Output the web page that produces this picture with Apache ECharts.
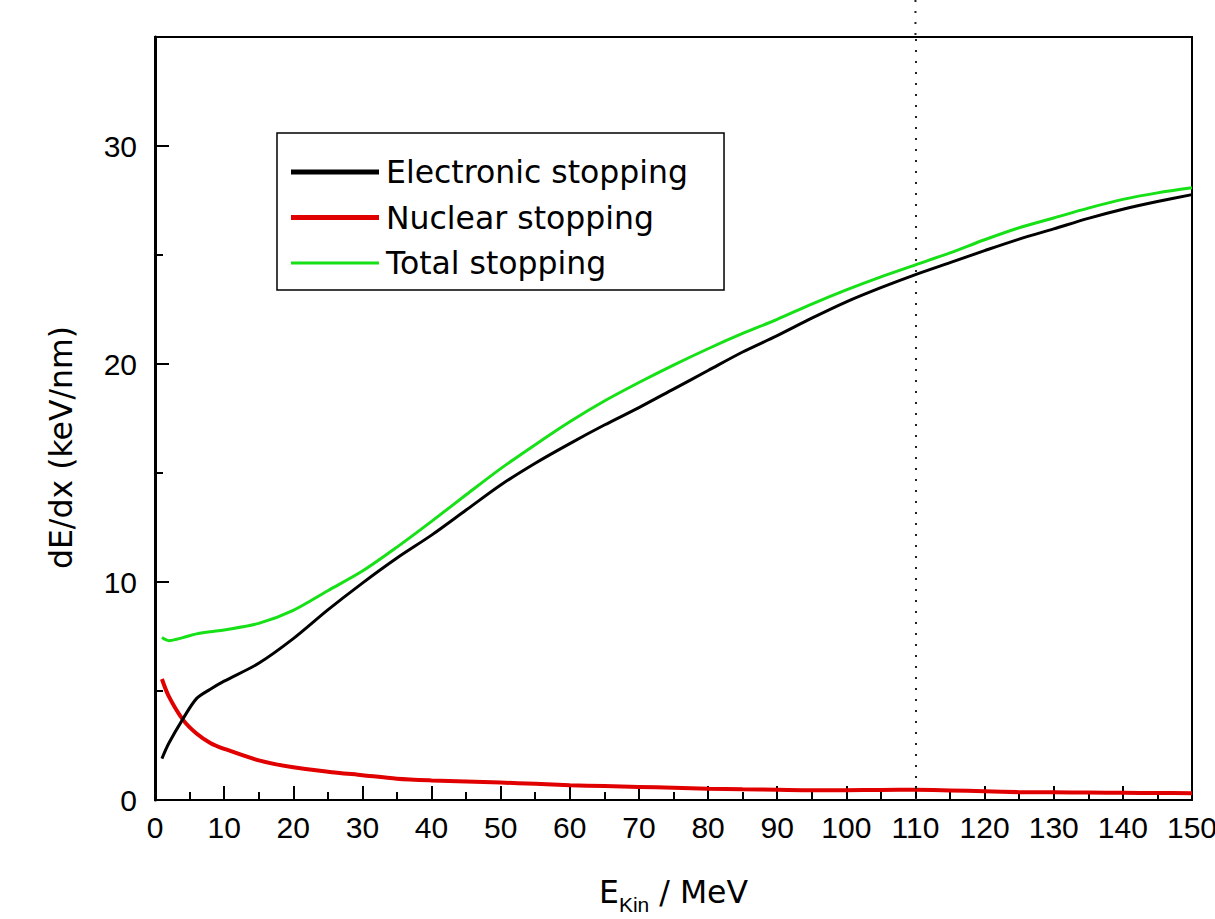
<!DOCTYPE html>
<html>
<head>
<meta charset="utf-8">
<script src="https://cdn.jsdelivr.net/npm/echarts@6/dist/echarts.min.js"></script>
<style>
  html, body { margin: 0; padding: 0; background: #fff; }
  #chart { width: 1215px; height: 919px; }
</style>
</head>
<body>
<div id="chart"></div>
<script>
// Kinetic energy (MeV)
const energy = [1, 2, 4, 6, 8, 10, 15, 20, 25, 30, 35, 40, 45, 50, 55, 60, 65, 70, 75, 80,
                85, 90, 95, 100, 105, 110, 115, 120, 125, 130, 135, 140, 145, 150];
// Stopping power dE/dx (keV/nm)
const electronic = [1.9, 2.6, 3.7, 4.65, 5.08, 5.45, 6.27, 7.4, 8.72, 9.95, 11.1, 12.15, 13.3, 14.45,
                    15.45, 16.35, 17.2, 18.0, 18.85, 19.7, 20.55, 21.3, 22.1, 22.85, 23.5, 24.1,
                    24.65, 25.2, 25.73, 26.2, 26.68, 27.1, 27.45, 27.77];
const nuclear = [5.55, 4.75, 3.7, 3.05, 2.62, 2.35, 1.82, 1.5, 1.3, 1.14, 0.98, 0.9, 0.85, 0.8,
                 0.74, 0.68, 0.64, 0.6, 0.56, 0.52, 0.49, 0.47, 0.45, 0.45, 0.46, 0.47, 0.44,
                 0.4, 0.36, 0.35, 0.34, 0.33, 0.32, 0.31];
const total = [7.45, 7.31, 7.45, 7.62, 7.72, 7.8, 8.1, 8.7, 9.6, 10.5, 11.6, 12.78, 14.0, 15.2,
               16.3, 17.35, 18.3, 19.15, 19.95, 20.7, 21.4, 22.05, 22.75, 23.4, 24.0, 24.55,
               25.1, 25.7, 26.25, 26.7, 27.15, 27.55, 27.85, 28.08];

const seriesNames = ['Electronic stopping', 'Nuclear stopping', 'Total stopping'];
const seriesColors = ['#000000', '#e10000', '#16e016'];
const xRange = [0, 150];
const xStep = 10;
const yRange = [0, 35];
const yStep = 10;
const yMinorStep = 5;
const markerEnergy = 110;

const pairs = ys => energy.map((e, i) => [e, ys[i]]);

const tickFont = 'Liberation Sans, Arial, sans-serif';
const textFont = 'DejaVu Sans, sans-serif';

// Flat bar icons for the legend: thickness follows the aspect of each path.
const thickBar = 'path://M0 0H88V5H0Z';
const thinBar = 'path://M0 0H88V3H0Z';

const chart = echarts.init(document.getElementById('chart'), null, { renderer: 'svg' });

const option = {
  animation: false,
  backgroundColor: '#fff',
  grid: {
    left: 155, right: 23, top: 37, bottom: 119,
    containLabel: false,
    outerBoundsMode: 'none',
    show: true,
    borderColor: '#000',
    borderWidth: 2,
    backgroundColor: 'transparent'
  },
  legend: {
    orient: 'vertical',
    left: 277,
    top: 133,
    padding: [21, 36, 9, 14],
    itemWidth: 88,
    itemHeight: 14,
    itemGap: 9.5,
    symbolKeepAspect: true,
    borderColor: '#000',
    borderWidth: 1.5,
    backgroundColor: '#fff',
    selectedMode: false,
    textStyle: {
      fontFamily: textFont, fontSize: 31.5, color: '#000', lineHeight: 36,
      padding: [0, 0, 0, 2]
    },
    data: [
      { name: seriesNames[0], icon: thickBar },
      { name: seriesNames[1], icon: thickBar },
      { name: seriesNames[2], icon: thinBar }
    ]
  },
  xAxis: {
    type: 'value',
    min: xRange[0], max: xRange[1], interval: xStep,
    axisLine: { lineStyle: { color: '#000', width: 2 } },
    axisTick: { inside: true, length: 14, lineStyle: { color: '#000', width: 2 } },
    minorTick: { show: true, splitNumber: 2, length: 8, lineStyle: { color: '#000', width: 2 } },
    splitLine: { show: false },
    axisLabel: { fontFamily: tickFont, fontSize: 30, color: '#000', margin: 12, hideOverlap: false },
    name: '{e|E}{sub|Kin}{e| / MeV}',
    nameLocation: 'middle',
    nameGap: 76,
    nameTextStyle: {
      rich: {
        e: { fontFamily: textFont, fontSize: 31.5, lineHeight: 32, color: '#000', verticalAlign: 'top' },
        sub: { fontFamily: tickFont, fontSize: 21, lineHeight: 21, color: '#000', verticalAlign: 'top', padding: [18, 0, 0, 0] }
      }
    }
  },
  yAxis: [
    {
      type: 'value',
      position: 'left',
      min: yRange[0], max: yRange[1], interval: yStep,
      axisLine: { show: true, lineStyle: { color: '#000', width: 3 } },
      axisTick: { show: true, inside: true, length: 14, lineStyle: { color: '#000', width: 2 } },
      splitLine: { show: false },
      axisLabel: {
        fontFamily: tickFont, fontSize: 30, color: '#000', margin: 18,
        formatter: v => (v % yStep === 0 ? String(v) : '')
      },
      name: 'dE/dx (keV/nm)',
      nameLocation: 'middle',
      nameRotate: 90,
      nameGap: 78,
      nameTextStyle: {
        fontFamily: textFont, fontSize: 31.5, color: '#000', lineHeight: 32,
        padding: [0, 58, 0, 0]
      }
    },
    {
      type: 'value',
      position: 'left',
      min: yRange[0], max: yRange[1], interval: yMinorStep,
      axisLine: { show: false },
      axisTick: { show: true, inside: true, length: 8, lineStyle: { color: '#000', width: 2 } },
      axisLabel: { show: false },
      splitLine: { show: false }
    }
  ],
  series: [
    {
      name: seriesNames[0], type: 'line', data: pairs(electronic),
      symbol: 'none', showSymbol: false, smooth: 0.3, z: 3,
      lineStyle: { color: seriesColors[0], width: 3 },
      itemStyle: { color: seriesColors[0] },
      markLine: {
        silent: true,
        symbol: ['none', 'none'],
        label: { show: false },
        lineStyle: { color: '#222', width: 2, type: [2, 9] },
        data: [{ xAxis: markerEnergy }]
      }
    },
    {
      name: seriesNames[1], type: 'line', data: pairs(nuclear),
      symbol: 'none', showSymbol: false, smooth: 0.3, z: 2,
      lineStyle: { color: seriesColors[1], width: 4 },
      itemStyle: { color: seriesColors[1] }
    },
    {
      name: seriesNames[2], type: 'line', data: pairs(total),
      symbol: 'none', showSymbol: false, smooth: 0.3, z: 4,
      lineStyle: { color: seriesColors[2], width: 3 },
      itemStyle: { color: seriesColors[2] }
    }
  ]
};

chart.setOption(option);

// Carry the dotted marker line above the plot frame up to the top edge of the page.
const markerX = chart.convertToPixel({ xAxisIndex: 0 }, markerEnergy);
const frameTop = chart.convertToPixel({ yAxisIndex: 0 }, yRange[1]);
chart.setOption({
  graphic: [{
    type: 'line',
    silent: true,
    shape: { x1: markerX, y1: 0, x2: markerX, y2: frameTop },
    style: { stroke: '#222', lineWidth: 2, lineDash: [2, 9] }
  }]
});
</script>
</body>
</html>
